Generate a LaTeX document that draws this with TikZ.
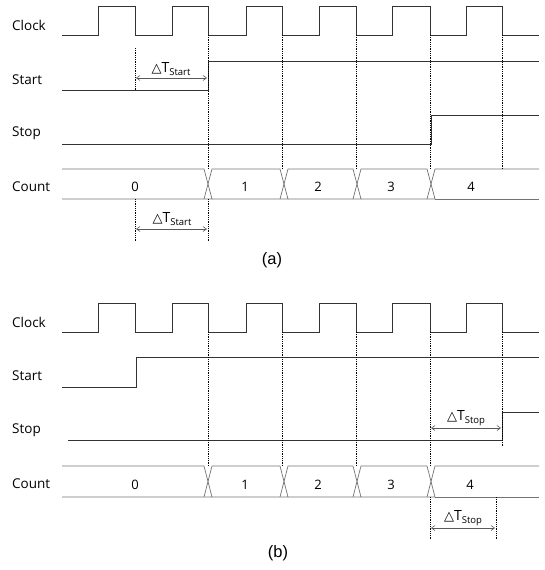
\documentclass[tikz,border=0pt]{standalone}
\usepackage{fontspec}
\setmainfont{Open Sans}
\newfontfamily\capfont{Liberation Sans}
\newfontfamily\symfont{DejaVu Sans}
\usetikzlibrary{arrows.meta}

\tikzset{
  wave/.style={draw=black!80, line width=0.7pt},
  bus/.style={draw=black!55, line width=0.7pt},
  guide/.style={draw=black, dash pattern=on 0.9pt off 0.9pt, line width=0.9pt},
  span/.style={draw=black!65, line width=0.6pt, {Straight Barb[length=3.5pt,width=5pt]}-{Straight Barb[length=3.5pt,width=5pt]}},
  siglabel/.style={anchor=west, inner sep=0pt, font=\fontsize{13.5}{15}\selectfont},
  value/.style={inner sep=0pt, font=\fontsize{13}{15}\selectfont},
  dtlabel/.style={inner sep=0pt, font=\fontsize{14}{16}\selectfont},
  caption/.style={inner sep=0pt, font=\capfont\fontsize{16.5}{18}\selectfont}
}

% clock waveform between levels #1 (low) and #2 (high)
\newcommand\clockwave[2]{%
  \draw[wave] (62,#1) -- (98,#1) -- (98,#2) -- (135,#2) -- (135,#1)
    -- (172,#1) -- (172,#2) -- (208,#2) -- (208,#1)
    -- (246,#1) -- (246,#2) -- (282,#2) -- (282,#1)
    -- (319,#1) -- (319,#2) -- (356,#2) -- (356,#1)
    -- (392,#1) -- (392,#2) -- (430,#2) -- (430,#1)
    -- (466,#1) -- (466,#2) -- (502,#2) -- (502,#1) -- (539,#1);}

% counter bus between rails #1 (top) and #2 (bottom)
\newcommand\countbus[2]{%
  \draw[bus] (62,#1) -- (204,#1) -- (212,#2) -- (62,#2);
  \draw[bus] (204,#2) -- (212,#1) -- (280,#1) -- (288,#2) -- (212,#2);
  \draw[bus] (280,#2) -- (288,#1) -- (353,#1) -- (361,#2) -- (288,#2);
  \draw[bus] (353,#2) -- (361,#1) -- (427,#1) -- (435,#2) -- (361,#2);
  \draw[bus] (427,#2) -- (435,#1) -- (539,#1);
  \draw[bus] (435,#2) -- (539,#2);}

% delta-T label with a lowered subscript
\newcommand\dT[1]{{\symfont\fontsize{13}{14}\selectfont △}T\raisebox{-2.5pt}{\fontsize{9.5}{10}\selectfont #1}}

\begin{document}
\begin{tikzpicture}[x=1pt,y=-1pt]
\useasboundingbox (0,0) rectangle (545,570);

% ---------------- panel (a) ----------------
\node[siglabel] (clkA) at (12,25) {Clock};
\node[siglabel] (staA) at (12,80) {Start};
\node[siglabel] (stoA) at (12,133) {Stop};
\node[siglabel] (cntA) at (12,187) {Count};

\clockwave{35}{6}
\draw[wave] (62,90) -- (208,90) -- (208,61) -- (539,61);
\draw[wave] (62,144) -- (431,144) -- (431,115) -- (539,115);
\countbus{169}{199}

\foreach \v/\x in {0/135,1/245,2/318,3/391,4/471}
  \node[value] (a\v) at (\x,187) {\v};

\coordinate (gA0t) at (135,48);  \coordinate (gA0b) at (135,90);
\draw[guide] (gA0t) -- (gA0b);
\foreach \i/\x in {1/208,2/282,3/356,4/430,5/502}{
  \coordinate (gA\i t) at (\x,35); \coordinate (gA\i b) at (\x,169);
  \draw[guide] (gA\i t) -- (gA\i b);
}
\coordinate (dA1) at (136,78); \coordinate (dA2) at (207,78);
\draw[span] (dA1) -- (dA2);
\node[dtlabel] (dtA1) at (171,69) {\dT{Start}};

\coordinate (lA0t) at (135,199); \coordinate (lA0b) at (135,241);
\coordinate (lA1t) at (208,199); \coordinate (lA1b) at (208,241);
\draw[guide] (lA0t) -- (lA0b);
\draw[guide] (lA1t) -- (lA1b);
\coordinate (dA3) at (136,229); \coordinate (dA4) at (207,229);
\draw[span] (dA3) -- (dA4);
\node[dtlabel] (dtA2) at (172,219) {\dT{Start}};

\node[caption] (capA) at (272,260) {(a)};

% ---------------- panel (b) ----------------
\node[siglabel] (clkB) at (12,322) {Clock};
\node[siglabel] (staB) at (12,376) {Start};
\node[siglabel] (stoB) at (12,430) {Stop};
\node[siglabel] (cntB) at (12,484) {Count};

\clockwave{332}{303}
\draw[wave] (62,387) -- (136,387) -- (136,357) -- (539,357);
\draw[wave] (68,440) -- (502,440) -- (502,412) -- (539,412);
\countbus{466}{497}

\foreach \v/\x in {0/135,1/245,2/318,3/391,4/470}
  \node[value] (b\v) at (\x,485) {\v};

\foreach \i/\x in {1/208,2/282,3/356,4/430}{
  \coordinate (gB\i t) at (\x,332); \coordinate (gB\i b) at (\x,466);
  \draw[guide] (gB\i t) -- (gB\i b);
}
\coordinate (gB5t) at (502,332); \coordinate (gB5b) at (502,446);
\draw[guide] (gB5t) -- (gB5b);
\coordinate (dB1) at (431,428); \coordinate (dB2) at (501,428);
\draw[span] (dB1) -- (dB2);
\node[dtlabel] (dtB1) at (466,418) {\dT{Stop}};

\coordinate (lB0t) at (430,497); \coordinate (lB0b) at (430,540);
\coordinate (lB1t) at (496,497); \coordinate (lB1b) at (496,540);
\draw[guide] (lB0t) -- (lB0b);
\draw[guide] (lB1t) -- (lB1b);
\coordinate (dB3) at (431,528); \coordinate (dB4) at (495,528);
\draw[span] (dB3) -- (dB4);
\node[dtlabel] (dtB2) at (463,518) {\dT{Stop}};

\node[caption] (capB) at (278,553) {(b)};
\end{tikzpicture}
\end{document}
